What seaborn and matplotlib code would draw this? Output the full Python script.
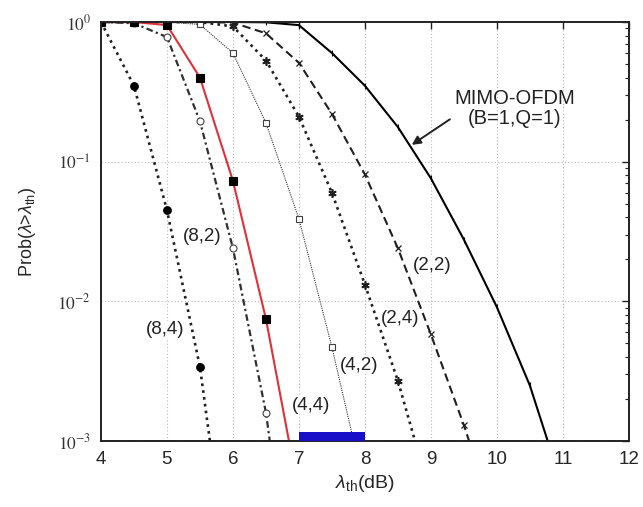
import matplotlib
matplotlib.use("Agg")
import matplotlib.pyplot as plt
import seaborn as sns
import numpy as np
import pandas as pd

# ---------------- data ----------------
x_84 = [4.0, 4.5, 5.0, 5.5, 6.0]
p_84 = [1.0, 0.35, 0.045, 0.0034, 6e-5]

x_82 = [4.0, 4.5, 5.0, 5.5, 6.0, 6.5, 7.0]
p_82 = [1.0, 0.98, 0.78, 0.195, 0.024, 0.0016, 3e-5]

x_44 = [4.0, 4.5, 5.0, 5.5, 6.0, 6.5, 7.0]
p_44 = [1.0, 1.0, 0.95, 0.40, 0.073, 0.0075, 4.2e-4]

x_42 = [4.0, 4.5, 5.0, 5.5, 6.0, 6.5, 7.0, 7.5, 8.0]
p_42 = [1.0, 1.0, 1.0, 0.96, 0.60, 0.19, 0.039, 0.0047, 4.5e-4]

x_24 = [4.0, 4.5, 5.0, 5.5, 6.0, 6.5, 7.0, 7.5, 8.0, 8.5, 9.0]
p_24 = [1.0, 1.0, 1.0, 1.0, 0.93, 0.53, 0.21, 0.06, 0.0132, 0.0027, 4e-4]

x_22 = [4.0, 4.5, 5.0, 5.5, 6.0, 6.5, 7.0, 7.5, 8.0, 8.5, 9.0, 9.5, 10.0]
p_22 = [1.0, 1.0, 1.0, 1.0, 0.99, 0.83, 0.51, 0.22, 0.081, 0.024, 0.0058, 0.0013, 2.5e-4]

x_mimo = [4.0, 4.5, 5.0, 5.5, 6.0, 6.5, 7.0, 7.5, 8.0, 8.5, 9.0, 9.5, 10.0, 10.5, 11.0]
p_mimo = [1.0, 1.0, 1.0, 1.0, 1.0, 0.995, 0.95, 0.60, 0.35, 0.177, 0.076, 0.0277, 0.0091, 0.0025, 4.6e-4]

curve_labels = ["(8,4)", "(8,2)", "(4,4)", "(4,2)", "(2,4)", "(2,2)"]
label_x = [4.97, 5.53, 7.18, 7.92, 8.53, 9.02]
label_p = [0.0063, 0.029, 0.0018, 0.0035, 0.0075, 0.018]

mimo_text = "MIMO-OFDM\n(B=1,Q=1)"
mimo_text_xy = (10.27, 0.24)
mimo_arrow_tip = (8.71, 0.132)

highlight_range = [7.0, 8.0]

x_ticks = [4, 5, 6, 7, 8, 9, 10, 11, 12]
y_ticks = [1e-3, 1e-2, 1e-1, 1e0]
y_tick_labels = [r"$10^{-3}$", r"$10^{-2}$", r"$10^{-1}$", r"$10^{0}$"]

# ---------------- style ----------------
sns.set_style("white")
plt.rcParams["font.family"] = ["Liberation Sans", "DejaVu Sans"]
plt.rcParams["mathtext.fontset"] = "custom"
plt.rcParams["mathtext.rm"] = "Liberation Sans"
plt.rcParams["mathtext.it"] = "Liberation Sans:italic"

fig = plt.figure(figsize=(6.43, 5.07), dpi=100)
ax = fig.add_axes([0.157, 0.130, 0.821, 0.8266])

def draw(xs, ps, color, ls, lw, marker, ms, mfc, mec, mew=1.0):
    df = pd.DataFrame({"x": xs, "p": ps})
    sns.lineplot(data=df, x="x", y="p", ax=ax, color=color, linestyle=ls,
                 linewidth=lw, marker=marker, markersize=ms,
                 markerfacecolor=mfc, markeredgecolor=mec,
                 markeredgewidth=mew, errorbar=None, sort=False)

draw(x_mimo, p_mimo, "black", "-", 1.5, "|", 5, "black", "black", 0.8)
draw(x_22, p_22, "#202020", (0, (4, 2.2)), 1.5, "x", 5, "black", "#202020", 0.9)
draw(x_24, p_24, "#202020", (0, (1, 1.6)), 1.9, (6, 2, 0), 6, "black", "#202020", 1.2)
draw(x_42, p_42, "#303030", (0, (1, 1)), 0.8, "s", 5, "white", "#404040", 0.8)
draw(x_82, p_82, "#303030", (0, (3, 1.5, 1, 1.5)), 1.6, "o", 5, "white", "#404040", 0.8)
draw(x_84, p_84, "#202020", (0, (1, 1.6)), 1.9, "o", 5.5, "black", "black", 0.8)
draw(x_44, p_44, "#e0303a", "-", 1.5, "s", 5.5, "black", "black", 0.8)

ax.set_yscale("log")
ax.set_xlim(4, 12)
ax.set_ylim(1e-3, 1.0)

# highlight bar on x axis
ax.axvspan(highlight_range[0], highlight_range[1], ymin=0.0, ymax=0.021,
           color="#1a0fc8", lw=0, zorder=5)

# labels
for t, lx, lp in zip(curve_labels, label_x, label_p):
    ax.text(lx, lp, t, ha="center", va="center", fontsize=13.5, color="#222222",
            zorder=6, bbox=dict(facecolor="white", edgecolor="none", pad=0.2))

ax.annotate(mimo_text, xy=mimo_arrow_tip, xytext=mimo_text_xy,
            ha="center", va="center", fontsize=14.5, color="#222222",
            linespacing=1.05,
            arrowprops=dict(arrowstyle="-|>", color="#222222", lw=1.4,
                            relpos=(0.0, 0.3), shrinkA=1, shrinkB=0,
                            mutation_scale=13))

# ticks
ax.set_xticks(x_ticks)
ax.set_xticklabels([str(v) for v in x_ticks], fontsize=13.5)
ax.set_yticks(y_ticks)
ax.set_yticklabels(y_tick_labels, fontsize=12.5)
for lab in ax.get_yticklabels():
    lab.set_math_fontfamily("stix")
    lab.set_color("#333333")
ax.yaxis.set_minor_locator(matplotlib.ticker.LogLocator(base=10, subs=np.arange(2, 10)))
ax.yaxis.set_minor_formatter(matplotlib.ticker.NullFormatter())
ax.tick_params(which="both", direction="in", top=True, right=True, color="#222222")
ax.tick_params(which="major", length=5, width=1.0, pad=7)
ax.tick_params(which="minor", length=3, width=0.8)
ax.tick_params(axis="x", which="minor", bottom=False, top=False)

ax.grid(True, which="major", color="#b8b8b8", linestyle=(0, (1, 2)), linewidth=0.8)
ax.set_axisbelow(True)
for s in ax.spines.values():
    s.set_linewidth(1.4)
    s.set_color("#222222")

ax.set_xlabel(r"$\lambda_{\rm th}$(dB)", fontsize=14, labelpad=4)
ax.set_ylabel(r"Prob($\lambda$>$\lambda_{\rm th}$)", fontsize=13, labelpad=14)

fig.savefig("out.png", dpi=100)
